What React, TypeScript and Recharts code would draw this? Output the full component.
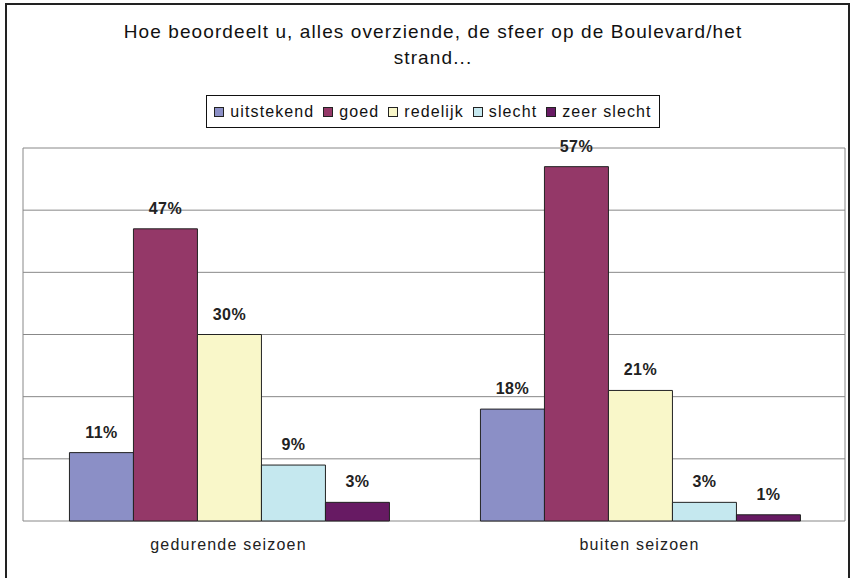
import React from "react";
import { Bar, BarChart, CartesianGrid, LabelList, XAxis, YAxis } from "recharts";

const categories = ["gedurende seizoen", "buiten seizoen"];
const seriesNames = ["uitstekend", "goed", "redelijk", "slecht", "zeer slecht"];
const uitstekend = [0.11, 0.18];
const goed = [0.47, 0.57];
const redelijk = [0.3, 0.21];
const slecht = [0.09, 0.03];
const zeerSlecht = [0.03, 0.01];
const yTicks = [0, 0.1, 0.2, 0.3, 0.4, 0.5, 0.6];
const boundaryTicks = [0, 1, 2];

const colors = ["#8b8fc6", "#943868", "#f9f7c9", "#c5e8ef", "#671a63"];
const keys = ["uitstekend", "goed", "redelijk", "slecht", "zeerSlecht"];

const data = categories.map((c, i) => ({
  name: c,
  uitstekend: uitstekend[i],
  goed: goed[i],
  redelijk: redelijk[i],
  slecht: slecht[i],
  zeerSlecht: zeerSlecht[i],
}));

const font = "'Liberation Sans', Arial, sans-serif";

const pct = (v: any) => `${Math.round(v * 100)}%`;

const LegendBox = () => (
  <div
    style={{
      position: "absolute",
      left: 206,
      top: 95,
      width: 452,
      height: 31,
      border: "1px solid #111",
      display: "flex",
      alignItems: "center",
      justifyContent: "center",
      fontFamily: font,
      fontSize: 16,
      letterSpacing: 1.1,
      color: "#111",
      background: "#fff",
    }}
  >
    {seriesNames.map((n, i) => (
      <span key={n} style={{ display: "inline-flex", alignItems: "center", marginRight: i < 4 ? 9 : 0 }}>
        <span
          style={{
            display: "inline-block",
            width: 8,
            height: 8,
            background: colors[i],
            border: "1px solid #222",
            marginRight: 6,
          }}
        />
        {n}
      </span>
    ))}
  </div>
);

const App = () => {
  return (
    <div style={{ position: "absolute", left: 0, top: 0, width: 850, height: 578, background: "#fff", fontFamily: font }}>
      <div
        style={{
          position: "absolute",
          left: 5,
          top: 3,
          width: 841,
          height: 580,
          border: "2px solid #222",
        }}
      />
      <div
        style={{
          position: "absolute",
          left: 0,
          top: 19,
          width: 866,
          textAlign: "center",
          fontSize: 19,
          letterSpacing: 1.1,
          lineHeight: "26px",
          color: "#111",
        }}
      >
        Hoe beoordeelt u, alles overziende, de sfeer op de Boulevard/het
        <br />
        strand...
      </div>
      <LegendBox />
      <BarChart
        width={850}
        height={578}
        data={data}
        margin={{ top: 148, right: 5, left: 23, bottom: 17 }}
        barCategoryGap="11.3%"
        barGap={0}
        style={{ position: "absolute", left: 0, top: 0 }}
      >
        <CartesianGrid
          stroke="#888"
          strokeWidth={1}
          vertical={true}
          verticalPoints={[23, 845]}
        />
        <XAxis
          xAxisId="b"
          type="number"
          domain={[0, 2]}
          ticks={boundaryTicks}
          tick={false}
          tickSize={5}
          tickLine={{ stroke: "#111" }}
          axisLine={{ stroke: "#333", strokeWidth: 2 }}
          height={0}
        />
        <XAxis
          dataKey="name"
          tickLine={false}
          axisLine={false}
          height={40}
          tickMargin={12}
          tick={{ fill: "#222", fontSize: 16, fontFamily: font, letterSpacing: 1.2 }}
        />
        <YAxis hide domain={[0, 0.6]} ticks={yTicks} />
        {keys.map((k, i) => (
          <Bar key={k} dataKey={k} name={seriesNames[i]} fill={colors[i]} stroke="#222" strokeWidth={1} isAnimationActive={false}>
            <LabelList
              dataKey={k}
              position="top"
              offset={15}
              formatter={pct}
              style={{ fontWeight: "bold", fontSize: 16, fill: "#222", fontFamily: font, letterSpacing: 0.4 }}
            />
          </Bar>
        ))}
      </BarChart>
    </div>
  );
};

export default App;
